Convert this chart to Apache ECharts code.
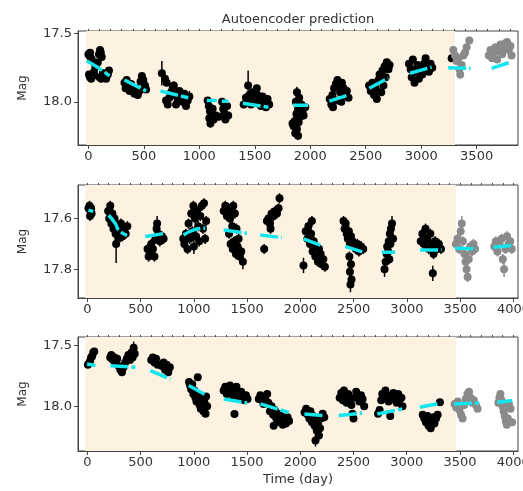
<!DOCTYPE html>
<html>
<head>
<meta charset="utf-8">
<script src="https://cdn.jsdelivr.net/npm/echarts@6/dist/echarts.min.js"></script>
<style>
html, body { margin: 0; padding: 0; background: #fff; }
#main { width: 523px; height: 491px; }
</style>
</head>
<body>
<div id="main"></div>
<script>
// ---- data: [time (day), mag, error] ----
const p1Black = [
  [0,17.65,0.02],[8,17.66,0.02],[15,17.64,0.02],[22,17.68,0.02],[30,17.69,0.02],
  [5,17.80,0.02],[14,17.82,0.02],[25,17.83,0.02],[38,17.81,0.02],[50,17.78,0.02],
  [62,17.74,0.02],[72,17.72,0.02],[85,17.71,0.02],
  [95,17.65,0.02],[105,17.62,0.02],[112,17.64,0.02],[120,17.67,0.02],
  [100,17.82,0.02],[115,17.83,0.02],[130,17.79,0.02],[145,17.81,0.02],[160,17.83,0.02],[175,17.80,0.02],[185,17.77,0.02],
  [325,17.86,0.02],[335,17.90,0.02],[345,17.84,0.02],[360,17.88,0.02],[372,17.92,0.02],[385,17.87,0.02],[400,17.91,0.02],
  [415,17.94,0.02],[430,17.90,0.02],[445,17.95,0.02],[460,17.92,0.02],[470,17.85,0.02],[482,17.81,0.02],[495,17.84,0.02],
  [510,17.88,0.02],[520,17.91,0.02],
  [662,17.79,0.09],[690,17.83,0.03],[705,17.86,0.02],[700,17.99,0.02],[715,18.02,0.02],[730,17.97,0.02],[745,17.93,0.02],
  [760,17.90,0.02],[770,17.88,0.03],[780,17.95,0.02],[790,18.02,0.02],[805,17.98,0.02],[820,17.92,0.02],[835,17.96,0.02],
  [850,18.00,0.02],[865,17.94,0.02],[880,18.03,0.03],[895,17.99,0.02],[910,17.96,0.04],
  [1075,17.99,0.02],[1085,18.03,0.02],[1095,18.07,0.02],[1090,18.12,0.02],[1100,18.16,0.03],[1110,18.10,0.02],
  [1120,18.05,0.02],[1130,18.13,0.02],[1150,18.10,0.02],[1175,18.11,0.02],[1205,18.00,0.02],[1215,18.05,0.02],
  [1225,18.08,0.02],[1235,18.13,0.02],[1250,18.03,0.02],[1260,18.10,0.02],
  [1440,17.88,0.11],[1400,18.02,0.02],[1420,17.97,0.02],[1435,18.00,0.02],[1450,17.95,0.02],[1465,18.02,0.02],
  [1480,17.93,0.02],[1495,17.97,0.02],[1510,18.01,0.02],[1518,17.90,0.02],[1525,17.95,0.02],[1540,17.99,0.02],
  [1555,18.03,0.02],[1570,17.96,0.02],[1585,18.00,0.02],[1600,18.04,0.02],[1615,17.98,0.02],[1630,18.02,0.02],
  [1880,17.93,0.04],[1900,17.97,0.02],[1870,18.00,0.02],[1920,18.02,0.02],[1890,18.05,0.02],[1930,18.07,0.02],
  [1875,18.09,0.02],[1910,18.11,0.02],[1940,18.10,0.02],[1860,18.14,0.02],[1895,18.15,0.02],[1850,18.18,0.02],
  [1880,18.20,0.02],[1865,18.23,0.02],[1890,18.25,0.03],[1955,18.04,0.02],[1840,18.16,0.02],
  [2175,17.98,0.02],[2190,18.02,0.02],[2200,17.95,0.02],[2215,17.90,0.02],[2230,17.87,0.02],[2245,17.84,0.02],
  [2260,17.88,0.02],[2270,17.93,0.02],[2285,17.86,0.02],[2300,17.90,0.02],[2315,17.95,0.02],[2330,17.92,0.02],
  [2345,17.97,0.02],[2205,18.04,0.02],[2240,17.99,0.02],[2280,18.00,0.02],
  [2530,17.88,0.02],[2545,17.92,0.02],[2560,17.86,0.02],[2575,17.95,0.02],[2590,17.90,0.02],[2600,17.98,0.02],
  [2615,17.84,0.02],[2625,17.80,0.02],[2640,17.93,0.02],[2650,17.77,0.02],[2660,17.88,0.02],[2670,17.74,0.02],
  [2680,17.82,0.02],[2690,17.71,0.02],[2705,17.76,0.02],[2715,17.73,0.02],
  [2890,17.72,0.02],[2905,17.76,0.02],[2915,17.82,0.02],[2925,17.69,0.02],[2940,17.86,0.02],[2950,17.78,0.02],
  [2965,17.73,0.02],[2980,17.83,0.02],[2995,17.76,0.02],[3010,17.80,0.02],[3025,17.72,0.02],[3040,17.68,0.02],
  [3055,17.74,0.02],[3070,17.78,0.02],[3085,17.72,0.02],[3100,17.75,0.02],
  [3275,17.68,0.02]
];
const p1Grey = [
  [3290,17.62,0.02],[3305,17.66,0.02],[3320,17.70,0.02],[3335,17.68,0.02],[3345,17.76,0.02],[3352,17.80,0.03],
  [3365,17.73,0.02],[3380,17.66,0.02],[3395,17.64,0.02],[3410,17.60,0.02],[3434,17.55,0.02],
  [3610,17.66,0.02],[3625,17.62,0.02],[3640,17.68,0.02],[3655,17.64,0.02],[3670,17.60,0.02],[3685,17.69,0.02],
  [3700,17.63,0.02],[3715,17.58,0.02],[3730,17.65,0.02],[3745,17.61,0.02],[3760,17.57,0.02],[3775,17.56,0.02],
  [3790,17.62,0.02],[3805,17.59,0.02],[3815,17.66,0.02]
];
const p1Fit = [
  [[-15,17.70],[90,17.75],[190,17.81]],
  [[325,17.84],[520,17.92]],
  [[650,17.92],[900,17.97]],
  [[1067,17.99],[1157,17.99]],
  [[1203,17.995],[1262,17.995]],
  [[1392,18.01],[1623,18.04]],
  [[1845,18.025],[1980,18.025]],
  [[2172,17.995],[2343,17.95]],
  [[2532,17.90],[2704,17.825]],
  [[2899,17.79],[3094,17.745]],
  [[3244,17.75],[3446,17.755]],
  [[3635,17.755],[3800,17.71]]
];

const p2Black = [
  [10,17.56,0.01],[20,17.55,0.02],[30,17.57,0.02],[40,17.58,0.01],[25,17.59,0.02],[35,17.56,0.02],
  [195,17.57,0.02],[205,17.60,0.02],[215,17.55,0.02],[225,17.62,0.02],[235,17.58,0.02],[245,17.64,0.02],
  [255,17.60,0.02],[265,17.66,0.02],[270,17.70,0.075],[280,17.63,0.02],[290,17.68,0.02],[300,17.65,0.02],
  [315,17.62,0.02],[330,17.67,0.02],[345,17.64,0.02],[360,17.66,0.02],[375,17.63,0.02],
  [565,17.72,0.02],[575,17.75,0.02],[585,17.73,0.02],[600,17.70,0.02],[615,17.72,0.02],[630,17.75,0.02],
  [640,17.68,0.02],[650,17.64,0.02],[655,17.62,0.03],[665,17.66,0.02],[680,17.69,0.02],[700,17.67,0.02],[716,17.68,0.02],
  [900,17.68,0.02],[910,17.70,0.02],[925,17.66,0.02],[940,17.72,0.02],[950,17.62,0.02],[960,17.68,0.02],
  [975,17.58,0.02],[985,17.65,0.02],[995,17.55,0.02],[1000,17.71,0.03],[1010,17.60,0.02],[1020,17.67,0.02],
  [1030,17.57,0.02],[1040,17.63,0.02],[1050,17.69,0.02],[1060,17.59,0.02],[1075,17.55,0.02],[1085,17.64,0.02],
  [1095,17.54,0.02],[1105,17.68,0.02],[1115,17.61,0.02],
  [1280,17.57,0.02],[1295,17.55,0.02],[1310,17.59,0.02],[1325,17.56,0.02],[1340,17.60,0.02],[1355,17.57,0.02],
  [1370,17.55,0.02],[1385,17.58,0.02],[1360,17.63,0.02],[1330,17.66,0.02],[1345,17.70,0.02],[1365,17.72,0.02],
  [1380,17.69,0.02],[1395,17.74,0.02],[1410,17.71,0.02],[1420,17.68,0.02],[1430,17.75,0.02],[1445,17.73,0.02],
  [1460,17.77,0.03],[1400,17.64,0.02],
  [1660,17.72,0.02],[1686,17.61,0.02],[1700,17.60,0.02],[1715,17.62,0.02],[1730,17.58,0.02],[1748,17.59,0.02],
  [1765,17.57,0.02],[1780,17.58,0.02],[1795,17.56,0.02],[1804,17.52,0.02],[1720,17.64,0.02],
  [2029,17.785,0.03],[2050,17.65,0.03],[2065,17.68,0.02],[2075,17.63,0.02],[2090,17.70,0.02],[2100,17.66,0.02],
  [2108,17.61,0.02],[2115,17.73,0.02],[2125,17.69,0.02],[2140,17.75,0.02],[2150,17.71,0.02],[2165,17.77,0.02],
  [2175,17.72,0.02],[2190,17.74,0.02],[2200,17.78,0.02],[2215,17.76,0.02],[2230,17.79,0.02],
  [2405,17.61,0.02],[2415,17.64,0.02],[2425,17.62,0.02],[2435,17.66,0.02],[2445,17.68,0.02],[2455,17.65,0.02],
  [2465,17.70,0.02],[2475,17.67,0.02],[2490,17.69,0.02],[2505,17.71,0.02],[2520,17.72,0.02],[2535,17.70,0.02],
  [2550,17.73,0.02],[2570,17.71,0.02],[2590,17.72,0.02],[2460,17.75,0.02],[2475,17.78,0.02],[2465,17.81,0.02],
  [2480,17.84,0.02],[2470,17.86,0.03],
  [2790,17.80,0.03],[2800,17.77,0.02],[2810,17.74,0.02],[2815,17.71,0.02],[2825,17.73,0.02],[2830,17.69,0.02],
  [2840,17.66,0.02],[2845,17.70,0.02],[2850,17.64,0.02],[2860,17.62,0.03],[2870,17.68,0.02],[2835,17.76,0.02],
  [3130,17.69,0.02],[3145,17.66,0.02],[3160,17.70,0.02],[3175,17.64,0.02],[3190,17.68,0.02],[3205,17.72,0.02],
  [3220,17.66,0.02],[3235,17.70,0.02],[3243,17.816,0.03],[3250,17.74,0.02],[3265,17.69,0.02],[3280,17.72,0.02],
  [3300,17.70,0.02],[3320,17.72,0.02]
];
const p2Grey = [
  [3460,17.70,0.02],[3475,17.68,0.02],[3490,17.72,0.02],[3505,17.65,0.02],[3515,17.62,0.03],[3525,17.69,0.02],
  [3540,17.74,0.02],[3550,17.77,0.02],[3560,17.80,0.03],[3570,17.83,0.02],[3580,17.76,0.02],[3595,17.71,0.02],
  [3610,17.73,0.02],[3625,17.70,0.02],[3640,17.72,0.02],
  [3820,17.71,0.02],[3835,17.69,0.02],[3850,17.73,0.02],[3870,17.70,0.02],[3890,17.68,0.02],[3900,17.76,0.02],
  [3912,17.80,0.03],[3925,17.72,0.02],[3940,17.67,0.02],[3955,17.70,0.02],[3970,17.69,0.02],[3985,17.72,0.02]
];
const p2Fit = [
  [[10,17.567],[55,17.572]],
  [[200,17.587],[263,17.62],[294,17.646],[372,17.666]],
  [[544,17.671],[732,17.658]],
  [[903,17.665],[1000,17.645],[1107,17.638]],
  [[1280,17.645],[1498,17.658]],
  [[1623,17.665],[1826,17.675]],
  [[2029,17.68],[2217,17.71]],
  [[2420,17.71],[2592,17.733]],
  [[2764,17.733],[2889,17.733]],
  [[3124,17.724],[3327,17.724]],
  [[3452,17.717],[3655,17.72]],
  [[3812,17.713],[3984,17.706]]
];

const p3Black = [
  [5,17.66,0.02],[15,17.65,0.02],[25,17.63,0.02],[35,17.60,0.02],[45,17.59,0.02],[55,17.56,0.02],[65,17.55,0.02],
  [215,17.60,0.02],[225,17.58,0.02],[240,17.62,0.02],[255,17.60,0.02],[265,17.64,0.02],[280,17.61,0.02],
  [295,17.67,0.02],[310,17.70,0.02],[325,17.72,0.02],[340,17.68,0.02],[355,17.64,0.02],[370,17.61,0.02],
  [385,17.58,0.02],[400,17.62,0.02],[415,17.56,0.02],[425,17.60,0.02],[435,17.52,0.05],[445,17.57,0.02],
  [600,17.62,0.02],[615,17.60,0.02],[630,17.64,0.02],[645,17.61,0.02],[660,17.66,0.02],[700,17.67,0.02],
  [715,17.64,0.02],[730,17.70,0.02],[745,17.66,0.02],[760,17.72,0.02],[775,17.68,0.02],
  [955,17.80,0.02],[965,17.83,0.02],[975,17.86,0.02],[985,17.82,0.02],[995,17.90,0.02],[1005,17.87,0.02],
  [1015,17.93,0.02],[1025,17.96,0.02],[1037,17.762,0.02],[1045,17.91,0.02],[1055,17.99,0.02],[1065,18.02,0.02],
  [1075,17.95,0.02],[1090,18.04,0.02],[1100,17.97,0.02],[1115,17.92,0.02],[1125,18.00,0.02],[1110,18.06,0.02],
  [1280,17.87,0.02],[1295,17.84,0.02],[1310,17.90,0.02],[1325,17.86,0.02],[1340,17.83,0.02],[1355,17.88,0.02],
  [1370,17.92,0.02],[1382,18.063,0.03],[1385,17.87,0.02],[1400,17.84,0.02],[1415,17.90,0.02],[1430,17.93,0.02],
  [1445,17.88,0.02],[1460,17.92,0.02],[1475,17.95,0.02],[1490,17.91,0.02],[1505,17.94,0.02],
  [1610,17.94,0.02],[1625,17.91,0.02],[1640,17.95,0.02],[1655,17.98,0.02],[1670,17.94,0.02],[1689,17.90,0.02],
  [1700,17.97,0.02],[1715,18.04,0.02],[1730,18.00,0.02],[1745,18.07,0.02],[1750,18.16,0.02],[1760,18.03,0.02],
  [1775,18.10,0.02],[1790,18.06,0.02],[1805,18.13,0.02],[1820,18.08,0.02],[1835,18.15,0.02],[1850,18.11,0.02],
  [1865,18.14,0.02],[1880,18.09,0.02],[1895,18.12,0.02],
  [2040,18.05,0.02],[2055,18.02,0.02],[2070,18.07,0.02],[2085,18.10,0.02],[2095,18.04,0.02],[2110,18.13,0.02],
  [2120,18.08,0.02],[2135,18.16,0.02],[2145,18.11,0.02],[2155,18.20,0.02],[2165,18.14,0.02],[2175,18.24,0.03],
  [2185,18.18,0.02],[2195,18.10,0.02],[2210,18.06,0.02],[2225,18.09,0.02],[2143,18.28,0.05],
  [2370,17.93,0.02],[2385,17.89,0.02],[2400,17.95,0.02],[2410,17.87,0.03],[2420,17.92,0.02],[2435,17.97,0.02],
  [2450,17.90,0.02],[2465,17.94,0.02],[2480,17.99,0.02],[2490,18.06,0.02],[2500,18.10,0.02],[2510,17.93,0.02],
  [2525,17.88,0.02],[2540,17.92,0.02],[2555,17.96,0.02],[2570,17.91,0.02],[2585,17.94,0.02],[2600,18.00,0.02],
  [2730,18.06,0.02],[2745,18.03,0.02],[2760,17.95,0.02],[2770,17.90,0.02],[2785,17.93,0.02],[2800,17.87,0.03],
  [2815,17.91,0.02],[2830,17.96,0.02],[2845,18.08,0.02],[2860,17.94,0.02],[2875,17.89,0.02],[2890,17.92,0.02],
  [2905,17.97,0.02],[2920,17.90,0.02],[2935,17.94,0.02],[2950,17.93,0.02],[2960,18.00,0.02],
  [3150,18.07,0.02],[3165,18.10,0.02],[3180,18.13,0.02],[3195,18.08,0.02],[3205,18.16,0.02],[3215,18.11,0.02],
  [3225,18.18,0.02],[3235,18.12,0.02],[3250,18.09,0.02],[3260,18.14,0.02],[3275,18.10,0.02],[3290,18.07,0.02],
  [3311,17.967,0.02]
];
const p3Grey = [
  [3450,17.98,0.02],[3465,18.01,0.02],[3480,17.96,0.02],[3495,18.03,0.02],[3510,18.07,0.02],[3525,18.10,0.02],
  [3540,17.99,0.02],[3555,17.94,0.02],[3570,17.90,0.02],[3585,17.88,0.02],[3600,17.93,0.02],[3615,17.97,0.02],
  [3630,17.95,0.02],[3650,17.99,0.02],[3665,18.02,0.02],
  [3860,17.97,0.02],[3870,17.93,0.02],[3880,17.90,0.02],[3890,17.95,0.02],[3900,18.00,0.02],[3910,18.04,0.02],
  [3920,18.08,0.02],[3930,18.12,0.02],[3940,18.15,0.02],[3950,18.10,0.02],[3960,17.98,0.02],[3975,18.02,0.02],
  [3990,18.13,0.02]
];
const p3Fit = [
  [[-3,17.653],[75,17.666]],
  [[216,17.667],[451,17.68]],
  [[592,17.707],[780,17.776]],
  [[952,17.83],[1125,17.912]],
  [[1281,17.94],[1501,17.973]],
  [[1626,17.98],[1892,18.05]],
  [[2039,18.063],[2221,18.076]],
  [[2362,18.076],[2582,18.055]],
  [[2723,18.063],[2958,18.022]],
  [[3123,18.008],[3318,17.973]],
  [[3443,17.98],[3678,17.973]],
  [[3851,17.967],[3991,17.953]]
];

// training region (shaded) per panel
const p1Shade = [-20, 3305];
const p2Shade = [-20, 3460];
const p3Shade = [-20, 3465];

// tick labels
const xTicks1 = [0, 500, 1000, 1500, 2000, 2500, 3000, 3500];
const xTicks23 = [0, 500, 1000, 1500, 2000, 2500, 3000, 3500, 4000];
const yTicks1 = [17.5, 18.0];
const yTicks2 = [17.6, 17.8];
const yTicks3 = [17.5, 18.0];

const SHADE = '#fdf1e1';
const CYAN = '#14e4ec';
const AXIS = '#444';
const TEXT = '#333';
const FONT = 'DejaVu Sans';
const FS = 13;

const panels = [
  { black: p1Black, grey: p1Grey, fit: p1Fit, shade: p1Shade, xMin: -94, xMax: 3873, yMin: 17.48, yMax: 18.317,
    xTicks: xTicks1, yTicks: yTicks1, yStep: 0.1, grid: { left: 78, top: 31, width: 440, height: 114 } },
  { black: p2Black, grey: p2Grey, fit: p2Fit, shade: p2Shade, xMin: -88, xMax: 4043, yMin: 17.468, yMax: 17.913,
    xTicks: xTicks23, yTicks: yTicks2, yStep: 0.05, grid: { left: 78, top: 185, width: 440, height: 113 } },
  { black: p3Black, grey: p3Grey, fit: p3Fit, shade: p3Shade, xMin: -88, xMax: 4045, yMin: 17.432, yMax: 18.366,
    xTicks: xTicks23, yTicks: yTicks3, yStep: 0.1, grid: { left: 78, top: 337, width: 440, height: 114 } }
];

function minorList(lo, hi, step) {
  const out = [];
  for (let k = Math.ceil(lo / step - 1e-9); k * step <= hi + 1e-9; k++) out.push(+(k * step).toFixed(3));
  return out;
}

const grids = [], xAxes = [], yAxes = [], series = [];

panels.forEach(function (cfg, i) {
  grids.push(Object.assign({ show: true, borderColor: AXIS, borderWidth: 1, backgroundColor: '#fff',
    containLabel: false, outerBoundsMode: 'none' }, cfg.grid));

  // main axes with labels
  xAxes.push({
    type: 'value', gridIndex: i, min: cfg.xMin, max: cfg.xMax,
    axisLine: { show: true, onZero: false, lineStyle: { color: AXIS } },
    axisTick: { show: true, customValues: cfg.xTicks, length: 4, lineStyle: { color: AXIS } },
    axisLabel: { customValues: cfg.xTicks, color: TEXT, fontSize: FS, fontFamily: FONT, margin: 5,
      formatter: function (v) { return String(v); } },
    splitLine: { show: false },
    name: i === 2 ? 'Time (day)' : '', nameLocation: 'middle', nameGap: 22,
    nameTextStyle: { color: TEXT, fontSize: FS, fontFamily: FONT }
  });
  yAxes.push({
    type: 'value', gridIndex: i, min: cfg.yMin, max: cfg.yMax, inverse: true,
    axisLine: { show: true, onZero: false, lineStyle: { color: AXIS } },
    axisTick: { show: true, customValues: cfg.yTicks, length: 4, lineStyle: { color: AXIS } },
    axisLabel: { customValues: cfg.yTicks, color: TEXT, fontSize: FS, fontFamily: FONT, margin: 6,
      formatter: function (v) { return v.toFixed(1); } },
    splitLine: { show: false },
    name: 'Mag', nameLocation: 'middle', nameGap: 49, nameRotate: 90,
    nameTextStyle: { color: TEXT, fontSize: 12, fontFamily: FONT }
  });
});

// minor tick axes
panels.forEach(function (cfg, i) {
  xAxes.push({
    type: 'value', gridIndex: i, min: cfg.xMin, max: cfg.xMax,
    axisLine: { show: false }, axisLabel: { show: false }, splitLine: { show: false },
    axisTick: { show: true, customValues: minorList(0, cfg.xMax, 100), length: 2, lineStyle: { color: AXIS } }
  });
  yAxes.push({
    type: 'value', gridIndex: i, min: cfg.yMin, max: cfg.yMax, inverse: true,
    axisLine: { show: false }, axisLabel: { show: false }, splitLine: { show: false },
    axisTick: { show: true, customValues: minorList(cfg.yMin, cfg.yMax, cfg.yStep), length: 2, lineStyle: { color: AXIS } }
  });
});

panels.forEach(function (cfg, i) {
  // shaded training window
  series.push({
    type: 'custom', xAxisIndex: i, yAxisIndex: i, z: 1, silent: true, clip: true,
    data: [cfg.shade],
    renderItem: function (params, api) {
      const cs = params.coordSys;
      const x0 = api.coord([api.value(0), cfg.yMin])[0];
      const x1 = api.coord([api.value(1), cfg.yMin])[0];
      return { type: 'rect', shape: { x: x0, y: cs.y, width: x1 - x0, height: cs.height }, style: { fill: SHADE } };
    }
  });

  [[cfg.black, '#000'], [cfg.grey, '#8a8a8a']].forEach(function (pair) {
    const pts = pair[0], color = pair[1];
    // error bars
    series.push({
      type: 'custom', xAxisIndex: i, yAxisIndex: i, z: 2, silent: true, clip: true,
      data: pts,
      renderItem: function (params, api) {
        const t = api.value(0), m = api.value(1), e = api.value(2);
        const a = api.coord([t, m - e]), b = api.coord([t, m + e]);
        return { type: 'line', shape: { x1: a[0], y1: a[1], x2: b[0], y2: b[1] },
          style: { stroke: color, lineWidth: 1.5 } };
      }
    });
    series.push({
      type: 'scatter', xAxisIndex: i, yAxisIndex: i, z: 3, silent: true,
      symbol: 'circle', symbolSize: 8, itemStyle: { color: color, opacity: 1 },
      data: pts
    });
  });

  // model prediction segments
  cfg.fit.forEach(function (seg) {
    series.push({
      type: 'line', xAxisIndex: i, yAxisIndex: i, z: 4, silent: true,
      symbol: 'none', smooth: seg.length > 2,
      lineStyle: { color: CYAN, width: 3.5, type: [18, 3] },
      data: seg
    });
  });
});

const chart = echarts.init(document.getElementById('main'));
chart.setOption({
  animation: false,
  graphic: [{
    type: 'text', x: 298, y: 20,
    style: { text: 'Autoencoder prediction', fill: TEXT, font: '13px "DejaVu Sans"', align: 'center', verticalAlign: 'middle' }
  }],
  grid: grids,
  xAxis: xAxes,
  yAxis: yAxes,
  series: series
});
</script>
</body>
</html>
